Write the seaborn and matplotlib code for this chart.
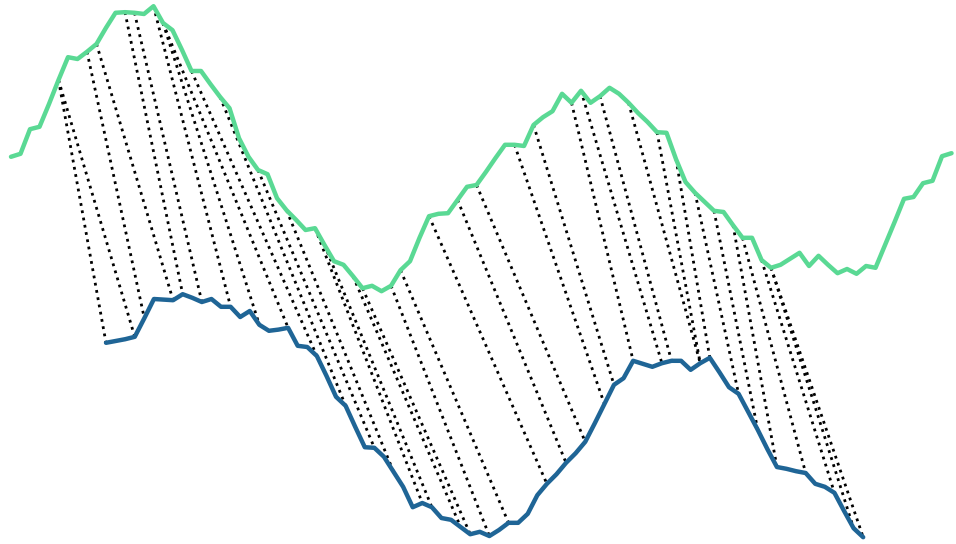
import numpy as np
import pandas as pd
import seaborn as sns
import matplotlib
matplotlib.use("Agg")
import matplotlib.pyplot as plt

# Long reference series (one sample per time step)
reference = [
    1.92, 1.97, 2.38, 2.42, 2.80, 3.20, 3.58, 3.55, 3.67, 3.80,
    4.07, 4.32, 4.33, 4.32, 4.30, 4.43, 4.15, 4.03, 3.70, 3.35,
    3.35, 3.13, 2.92, 2.73, 2.23, 1.92, 1.70, 1.63, 1.23, 1.03,
    0.87, 0.70, 0.73, 0.45, 0.18, 0.12, -0.07, -0.27, -0.23, -0.32,
    -0.23, 0.03, 0.18, 0.57, 0.93, 0.97, 0.98, 1.20, 1.42, 1.45,
    1.67, 1.90, 2.12, 2.12, 2.10, 2.45, 2.58, 2.68, 2.97, 2.82,
    3.02, 2.82, 2.93, 3.07, 2.97, 2.82, 2.65, 2.50, 2.33, 2.32,
    1.88, 1.50, 1.32, 1.17, 1.02, 1.00, 0.78, 0.57, 0.57, 0.20,
    0.07, 0.12, 0.22, 0.32, 0.10, 0.27, 0.12, -0.02, 0.05, -0.03,
    0.10, 0.07, 0.45, 0.83, 1.22, 1.25, 1.48, 1.52, 1.93, 1.98,
]

# Shorter query series
query = [
    -1.18, -1.15, -1.12, -1.08, -0.77, -0.45, -0.46, -0.47, -0.37, -0.43,
    -0.50, -0.45, -0.58, -0.58, -0.75, -0.65, -0.88, -0.98, -0.96, -0.93,
    -1.23, -1.25, -1.40, -1.73, -2.08, -2.23, -2.58, -2.92, -2.93, -3.08,
    -3.33, -3.58, -3.92, -3.85, -3.92, -4.10, -4.13, -4.25, -4.37, -4.33,
    -4.40, -4.30, -4.18, -4.18, -4.03, -3.72, -3.53, -3.37, -3.18, -3.02,
    -2.83, -2.52, -2.20, -1.88, -1.77, -1.48, -1.53, -1.58, -1.52, -1.48,
    -1.48, -1.63, -1.52, -1.43, -1.67, -1.92, -2.03, -2.33, -2.63, -2.95,
    -3.25, -3.28, -3.32, -3.35, -3.53, -3.58, -3.68, -3.98, -4.27, -4.42,
]

# Matched index pairs (reference index, query index)
matches = [
    (5, 0), (5, 3), (8, 4), (9, 7), (12, 8), (13, 10), (15, 13), (16, 16),
    (16, 19), (19, 22), (22, 25), (26, 28), (29, 30), (32, 33), (33, 34),
    (36, 37), (37, 38), (40, 40), (41, 42), (44, 46), (47, 48), (49, 50),
    (53, 52), (55, 53), (59, 55), (60, 58), (62, 59), (65, 62), (68, 62),
    (70, 63), (72, 66), (74, 68), (76, 70), (77, 73), (79, 76), (80, 78),
    (80, 79),
]

GREEN = "#5ad994"
BLUE = "#1f6596"

sns.set_theme(style="white")

fig = plt.figure(figsize=(9.56, 5.44), dpi=100)
ax = fig.add_axes([0, 0, 1, 1])

t_ref = np.arange(len(reference))
t_query = np.linspace(10, 89.7, len(query))

ref_df = pd.DataFrame({"t": t_ref, "value": reference})
query_df = pd.DataFrame({"t": t_query, "value": query})

# dotted connectors between matched samples
for i, j in matches:
    ax.plot([t_ref[i], t_query[j]], [reference[i], query[j]],
            color="black", lw=2, ls=":", zorder=1)

sns.lineplot(data=ref_df, x="t", y="value", color=GREEN, lw=3.2,
             ax=ax, zorder=2)
sns.lineplot(data=query_df, x="t", y="value", color=BLUE, lw=3.2,
             ax=ax, zorder=2)

ax.set_xlim(-1.158, 99.47)
ax.set_ylim(-4.533, 4.533)
ax.axis("off")

fig.savefig("out.png", dpi=100)
